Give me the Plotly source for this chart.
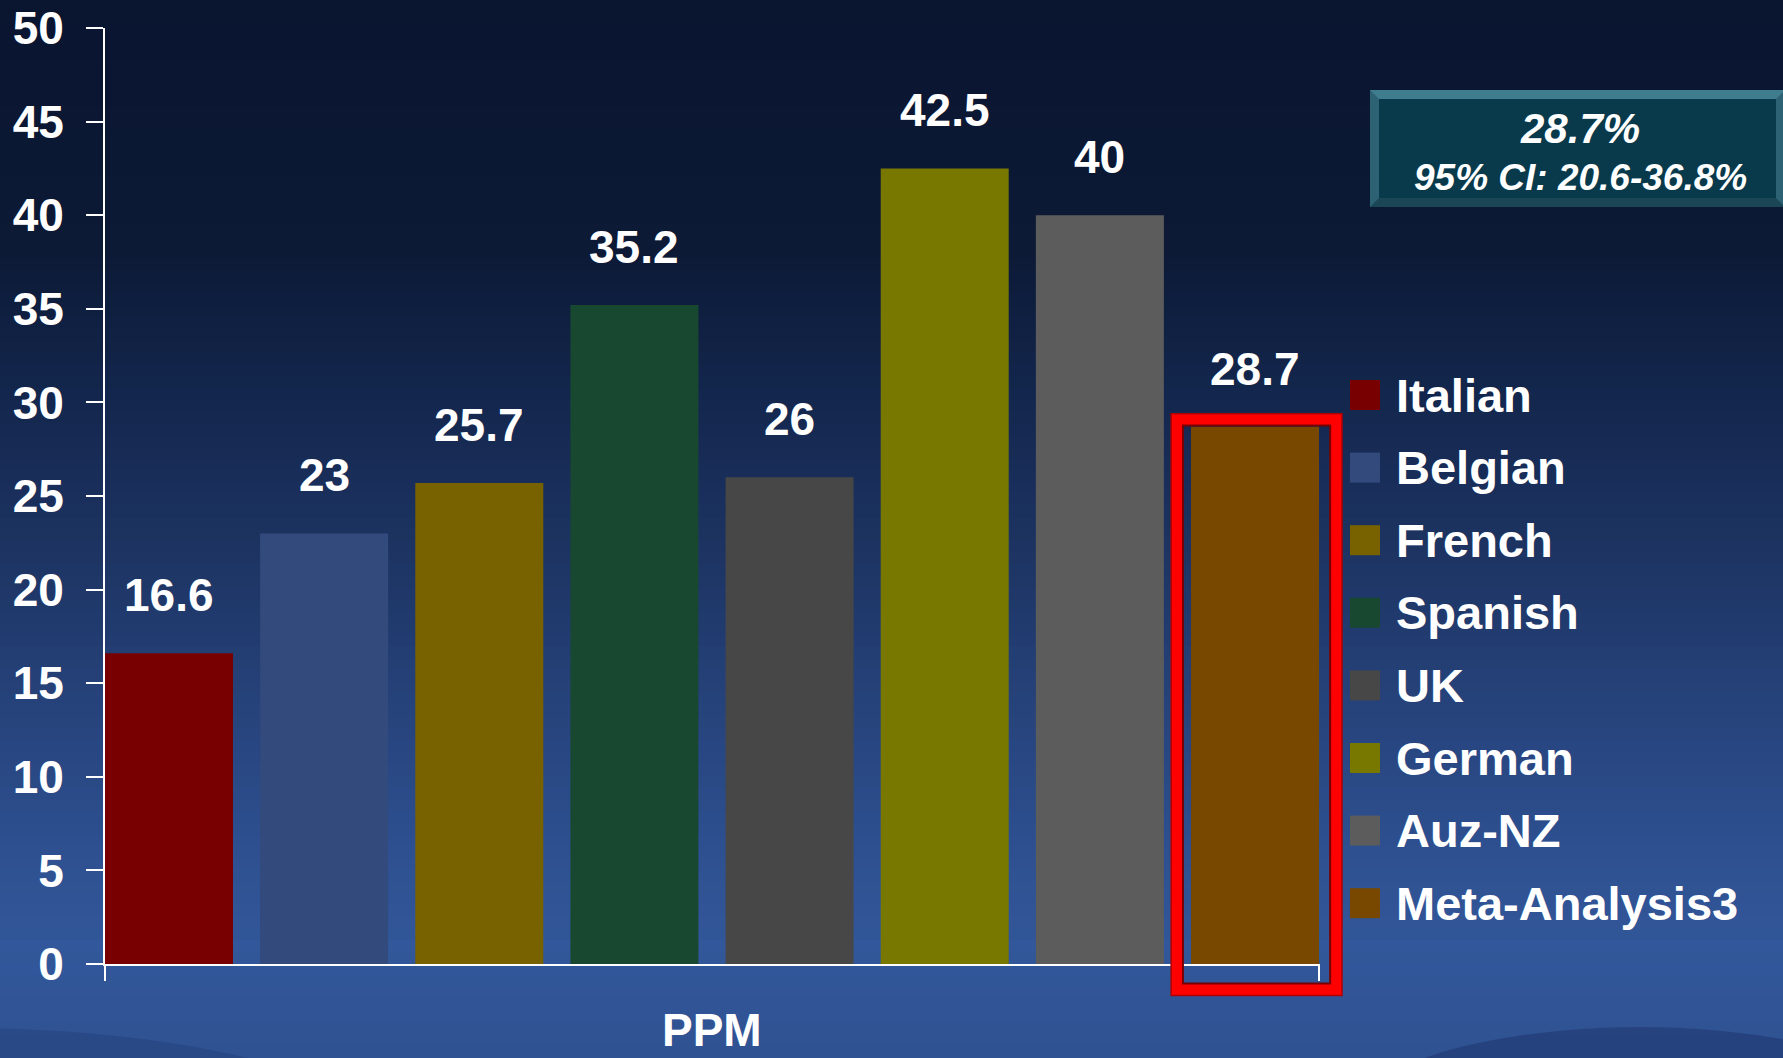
import plotly.graph_objects as go

# ---- data ----
categories = ["Italian", "Belgian", "French", "Spanish", "UK", "German", "Auz-NZ", "Meta-Analysis3"]
values = [16.6, 23, 25.7, 35.2, 26, 42.5, 40, 28.7]
colors = ["#780000", "#334a7c", "#786200", "#184830", "#474747", "#787800", "#5c5c5c", "#784800"]
y_ticks = [0, 5, 10, 15, 20, 25, 30, 35, 40, 45, 50]
x_label = "PPM"
summary_lines = ["28.7%", "95% CI: 20.6-36.8%"]
highlight = "Meta-Analysis3"

W, H = 1783, 1058
L, R, T, B = 105, 464, 28, 94
PW, PH = W - L - R, H - T - B
FONT = "Liberation Sans, Arial, sans-serif"
Y_RANGE = [0, 50]

def px(x):
    return (x - L) / PW

def py(y):
    return (H - B - y) / PH

def lerp_hex(c1, c2, t):
    a = [int(c1[i:i + 2], 16) for i in (1, 3, 5)]
    b = [int(c2[i:i + 2], 16) for i in (1, 3, 5)]
    return "#" + "".join(f"{round(a[k] + (b[k] - a[k]) * t):02x}" for k in range(3))

stops = [(0, "#0a1530"), (250, "#0c1a36"), (400, "#13264e"), (550, "#1d3462"),
         (700, "#26427a"), (850, "#2e5090"), (950, "#32579a"), (1058, "#2f5292")]

def bg_color(y):
    for (y0, c0), (y1, c1) in zip(stops[:-1], stops[1:]):
        if y0 <= y <= y1:
            return lerp_hex(c0, c1, (y - y0) / (y1 - y0))
    return stops[-1][1]

shapes = []
nb = 90
step = H / nb
for i in range(nb):
    y0 = i * step
    shapes.append(dict(type="rect", xref="paper", yref="paper", layer="below",
                       x0=px(-5), x1=px(W + 5), y0=py(y0 - 0.5), y1=py(y0 + step + 0.5),
                       fillcolor=bg_color(y0 + step / 2), line=dict(width=0)))

# bottom swooshes (background decoration)
shapes.append(dict(type="circle", xref="paper", yref="paper", layer="below",
                   x0=px(1340), x1=px(1940), y0=py(1027), y1=py(1230),
                   fillcolor="rgba(28,50,105,0.5)", line=dict(width=0)))
shapes.append(dict(type="circle", xref="paper", yref="paper", layer="below",
                   x0=px(-500), x1=px(420), y0=py(1028), y1=py(1300),
                   fillcolor="rgba(28,50,105,0.3)", line=dict(width=0)))

fig = go.Figure()
bw = 0.825
X_RANGE = [-bw / 2, len(categories) - 1 + bw / 2]
for name, v, c in zip(categories, values, colors):
    fig.add_trace(go.Bar(x=[name], y=[v], marker=dict(color=c, line=dict(width=0)),
                         width=bw, showlegend=False, hoverinfo="x+y"))

annotations = []
for name, v in zip(categories, values):
    annotations.append(dict(x=name, y=v, xref="x", yref="y", text=f"<b>{v:g}</b>",
                            showarrow=False, yshift=58, yanchor="middle",
                            font=dict(family=FONT, size=46, color="white")))

# x axis end ticks
for xx in (0, 1):
    shapes.append(dict(type="line", xref="paper", yref="paper", x0=xx, x1=xx,
                       y0=0, y1=py(H - B + 17), line=dict(color="white", width=2)))

# highlight box around the meta-analysis bar (paper coords derived from data scales)
def xpap(xv):
    return (xv - X_RANGE[0]) / (X_RANGE[1] - X_RANGE[0])

def ypap(yv):
    return (yv - Y_RANGE[0]) / (Y_RANGE[1] - Y_RANGE[0])

hi = categories.index(highlight)
hv = values[hi]
shapes.append(dict(type="rect", xref="paper", yref="paper",
                   x0=xpap(hi - bw / 2 - 0.09), x1=xpap(hi + bw / 2 + 0.11),
                   y0=ypap(-1.36), y1=ypap(hv + 0.37), line=dict(color="#ff0000", width=12)))
shapes.append(dict(type="rect", xref="paper", yref="paper",
                   x0=xpap(hi - bw / 2 - 0.052), x1=xpap(hi + bw / 2 + 0.072),
                   y0=ypap(-1.04), y1=ypap(hv + 0.06), line=dict(color="#7a0000", width=2)))
shapes.append(dict(type="rect", xref="paper", yref="paper",
                   x0=xpap(hi - bw / 2 - 0.128), x1=xpap(hi + bw / 2 + 0.148),
                   y0=ypap(-1.68), y1=ypap(hv + 0.69), line=dict(color="#b00000", width=1.5)))

# summary box (bevelled)
bx0, bx1, by0, by1 = 1370, 1785, 90, 207
shapes.append(dict(type="rect", xref="paper", yref="paper", x0=px(bx0), x1=px(bx1),
                   y0=py(by1), y1=py(by0), fillcolor="#2c6274", line=dict(width=0)))
shapes.append(dict(type="path", xref="paper", yref="paper",
                   path=f"M {px(bx0)},{py(by1)} L {px(bx1)},{py(by1)} L {px(bx1 - 9)},{py(by1 - 9)} L {px(bx0 + 9)},{py(by1 - 9)} Z",
                   fillcolor="#1a4656", line=dict(width=0)))
shapes.append(dict(type="path", xref="paper", yref="paper",
                   path=f"M {px(bx0)},{py(by0)} L {px(bx1)},{py(by0)} L {px(bx1 - 9)},{py(by0 + 9)} L {px(bx0 + 9)},{py(by0 + 9)} Z",
                   fillcolor="#3f7c8e", line=dict(width=0)))
shapes.append(dict(type="rect", xref="paper", yref="paper", x0=px(bx0 + 9), x1=px(bx1 - 9),
                   y0=py(by1 - 9), y1=py(by0 + 9), fillcolor="#093a4c", line=dict(width=0)))
for line_txt, yc, fs in zip(summary_lines, (129, 177), (42, 37)):
    annotations.append(dict(x=px(1580), y=py(yc), xref="paper", yref="paper",
                            text=f"<b><i>{line_txt}</i></b>", showarrow=False,
                            xanchor="center", yanchor="middle",
                            font=dict(family=FONT, size=fs, color="white")))

# custom legend
for i, (name, c) in enumerate(zip(categories, colors)):
    yc = 395 + i * 72.6
    shapes.append(dict(type="rect", xref="paper", yref="paper", x0=px(1350), x1=px(1380),
                       y0=py(yc + 15), y1=py(yc - 15), fillcolor=c, line=dict(width=0)))
    annotations.append(dict(x=px(1394), y=py(yc), xref="paper", yref="paper",
                            text=f"<b>{name}</b>", showarrow=False, xanchor="left",
                            yanchor="middle", font=dict(family=FONT, size=47, color="white")))

# x category label
annotations.append(dict(x=0.5, y=py(1030), xref="paper", yref="paper", text=f"<b>{x_label}</b>",
                        showarrow=False, xanchor="center", yanchor="middle",
                        font=dict(family=FONT, size=46, color="white")))

fig.update_layout(
    width=W, height=H,
    margin=dict(l=L, r=R, t=T, b=B, pad=0, autoexpand=False),
    paper_bgcolor="#1d3462", plot_bgcolor="rgba(0,0,0,0)",
    barmode="overlay",
    showlegend=False,
    shapes=shapes, annotations=annotations,
    xaxis=dict(type="category", categoryorder="array", categoryarray=categories,
               range=X_RANGE, automargin=False,
               showline=True, linecolor="white", linewidth=2, showticklabels=False,
               ticks="", showgrid=False, zeroline=False, fixedrange=True),
    yaxis=dict(range=Y_RANGE, tickvals=y_ticks, ticks="outside", ticklen=17, tickwidth=2,
               tickcolor="white", showline=True, linecolor="white", linewidth=2,
               showgrid=False, zeroline=False, ticklabelstandoff=13, automargin=False,
               ticklabeloverflow="allow",
               tickfont=dict(family=FONT, size=46, color="white", weight="bold")),
)

fig.write_html("out.html")
